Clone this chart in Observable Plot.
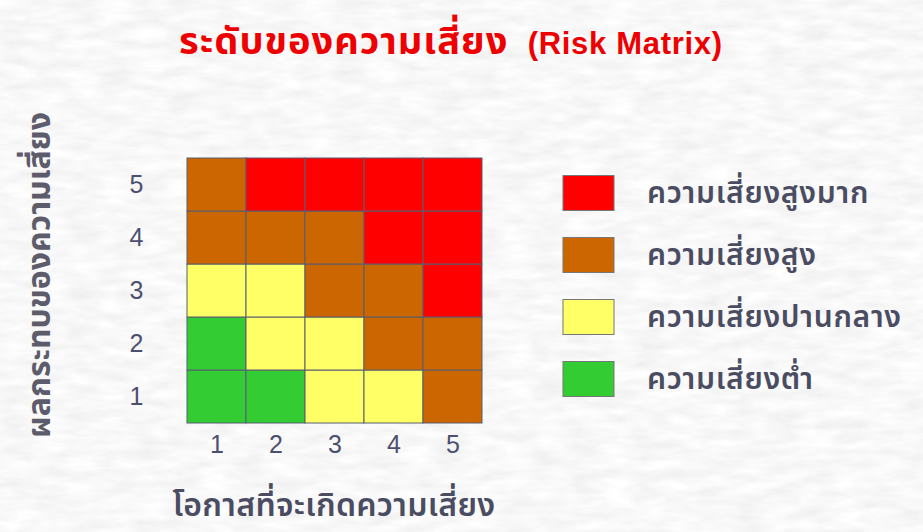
<!DOCTYPE html>
<html>
<head>
<meta charset="utf-8">
<script src="https://cdn.jsdelivr.net/npm/d3@7"></script>
<script src="https://cdn.jsdelivr.net/npm/@observablehq/plot@0.6"></script>
<style>
  html, body { margin: 0; padding: 0; }
  body {
    width: 923px; height: 532px; overflow: hidden;
    background-color: #efefef;
    background-image: url("data:image/svg+xml;utf8,<svg xmlns='http://www.w3.org/2000/svg' width='923' height='532'><filter id='n' x='0' y='0' width='100%' height='100%'><feTurbulence type='fractalNoise' baseFrequency='0.03 0.1' numOctaves='3' seed='4'/><feColorMatrix values='0.2 0 0 0 0.84  0.2 0 0 0 0.84  0.2 0 0 0 0.84  0 0 0 0 1'/></filter><rect width='100%' height='100%' filter='url(%23n)'/></svg>");
  }
  #wrap { position: relative; width: 923px; height: 532px; font-family: Tahoma, "Noto Sans Thai", Loma, "Liberation Sans", sans-serif; }
  #title { position: absolute; left: 179px; top: 20px; white-space: nowrap; color: #ee0000; line-height: 1.2; }
  #title .th { font-size: 38px; font-weight: bold; letter-spacing: 1px; }
  #title .en { font-family: Arial, "Liberation Sans", sans-serif; font-size: 31px; font-weight: bold; letter-spacing: 0.7px; margin-left: 10px; }
  #ylab { position: absolute; left: 40px; top: 275px; transform: translate(-50%, -50%) rotate(-90deg); white-space: nowrap; color: #5c5c6c; font-size: 32px; font-weight: bold; line-height: 1.2; }
  #xlab { position: absolute; left: 334px; top: 506px; transform: translate(-50%, -50%); white-space: nowrap; color: #4a4c62; font-size: 32px; letter-spacing: 0.3px; font-weight: 600; line-height: 1; }
  #main { position: absolute; left: 0; top: 90px; }
  #legend { position: absolute; left: 540px; top: 140px; }
</style>
</head>
<body>
<div id="wrap">
  <div id="title"><span class="th"></span><span class="en"></span></div>
  <div id="ylab"></div>
  <div id="xlab"></div>
  <div id="main"></div>
  <div id="legend"></div>
</div>
<script>
const titleThai = "ระดับของความเสี่ยง";
const titleEn = "(Risk Matrix)";
const xLabel = "โอกาสที่จะเกิดความเสี่ยง";
const yLabel = "ผลกระทบของความเสี่ยง";

const likelihood = [1, 2, 3, 4, 5];   // x ticks
const impact = [1, 2, 3, 4, 5];       // y ticks

const levels = ["ความเสี่ยงสูงมาก", "ความเสี่ยงสูง", "ความเสี่ยงปานกลาง", "ความเสี่ยงต่ำ"];
const levelColors = ["#ff0000", "#cc6600", "#ffff66", "#33cc33"];

// each row lists likelihood 1..5; value = index into levels
const row5 = [1, 0, 0, 0, 0];
const row4 = [1, 1, 1, 0, 0];
const row3 = [2, 2, 1, 1, 0];
const row2 = [3, 2, 2, 1, 1];
const row1 = [3, 3, 2, 2, 1];

const rows = [row1, row2, row3, row4, row5];
const cells = [];
rows.forEach((r, i) => r.forEach((v, j) => cells.push({x: likelihood[j], y: impact[i], level: levels[v]})));

document.querySelector("#title .th").textContent = titleThai;
document.querySelector("#title .en").textContent = " " + titleEn;
document.getElementById("ylab").textContent = yLabel;
document.getElementById("xlab").textContent = xLabel;

const fontFam = 'Arial, "Liberation Sans", sans-serif';

const main = Plot.plot({
  width: 540,
  height: 442,
  marginLeft: 185,
  marginRight: 56,
  marginTop: 66,
  marginBottom: 107,
  style: {background: "transparent", fontFamily: fontFam, overflow: "visible"},
  x: {type: "band", domain: likelihood, padding: 0},
  y: {type: "band", domain: impact.slice().reverse(), padding: 0},
  color: {type: "ordinal", domain: levels, range: levelColors},
  marks: [
    Plot.cell(cells, {x: "x", y: "y", fill: "level", stroke: "#585c70", strokeWidth: 1}),
    Plot.axisX({tickSize: 0, tickPadding: 10, fontSize: 25, color: "#4c5070", label: null}),
    Plot.axisY({tickSize: 0, tickPadding: 42, fontSize: 25, color: "#4c5070", label: null})
  ]
});
document.getElementById("main").appendChild(main);

const legend = Plot.plot({
  width: 383,
  height: 290,
  margin: 0,
  style: {background: "transparent", fontFamily: 'Tahoma, "Noto Sans Thai", Loma, sans-serif', overflow: "visible", letterSpacing: "0.7px"},
  x: {type: "band", domain: ["s"], range: [23, 74], padding: 0, axis: null},
  y: {type: "band", domain: levels, range: [21, 271], padding: 0, axis: null},
  color: {type: "ordinal", domain: levels, range: levelColors},
  marks: [
    Plot.cell(levels, {x: () => "s", y: d => d, fill: d => d, stroke: "#777777", strokeWidth: 1, insetTop: 13.5, insetBottom: 13.5}),
    Plot.text(levels, {x: () => "s", y: d => d, text: d => d, textAnchor: "start", dx: 58, fontSize: 30, fontWeight: 600, fill: "#4a4c62"})
  ]
});
document.getElementById("legend").appendChild(legend);
</script>
</body>
</html>
